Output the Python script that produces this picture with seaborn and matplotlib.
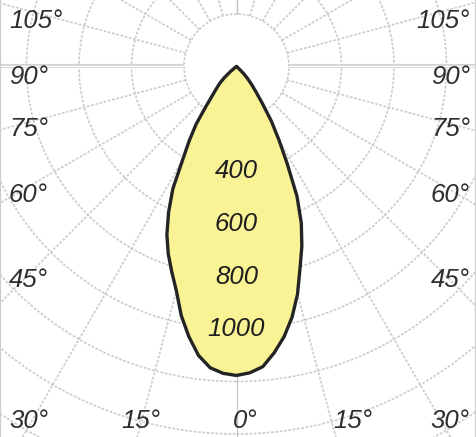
import numpy as np
import pandas as pd
import matplotlib
matplotlib.use("Agg")
import matplotlib.pyplot as plt
import seaborn as sns
from matplotlib.patches import Circle

# ---- data (gamma angle in degrees, intensity in cd) ----
gamma_deg = [0, 2.5, 5, 7.5, 10, 12.5, 15, 17.5, 20, 22.5, 25, 27.5, 30,
             32.5, 35, 37.5, 40, 42.5, 45, 47.5, 50, 55, 60, 90]
cd_left = [1177, 1170, 1152, 1110, 1045, 972, 885, 820, 760, 693, 612, 525, 410,
           335, 268, 190, 140, 112, 90, 62, 32, 6, 0, 0]
cd_right = [1177, 1168, 1148, 1100, 1045, 978, 898, 805, 728, 645, 545, 420, 324,
            248, 172, 122, 90, 64, 40, 16, 2, 0, 0, 0]

ring_values = [200, 400, 600, 800, 1000, 1200, 1400, 1600, 1800]
ring_label_values = [400, 600, 800, 1000]
ring_labels = ["400", "600", "800", "1000"]

side_labels = ["105°", "90°", "75°", "60°", "45°"]
bottom_labels = ["30°", "15°", "0°", "15°", "30°"]

# ---- layout / style ----
PX = 200 / 52.5            # cd per pixel
W, H = 476, 437
CX, CY = 236.5, 66.5       # pole position in pixels
grid_col = "#cbcbcb"
fill_col = "#FAF396"
line_col = "#242424"
text_col = "#2e2e2e"

sns.set_theme(style="white")
plt.rcParams["font.family"] = ["Liberation Sans", "DejaVu Sans"]

fig = plt.figure(figsize=(W / 100, H / 100), dpi=100)
ax = fig.add_axes([0, 0, 1, 1])
ax.set_xlim(-CX * PX, (W - CX) * PX)
ax.set_ylim(-(H - CY) * PX, CY * PX)
ax.set_xticks([])
ax.set_yticks([])
for s in ["top", "bottom"]:
    ax.spines[s].set_visible(False)
for s in ["left", "right"]:
    ax.spines[s].set_color("#cccccc")
    ax.spines[s].set_linewidth(1.6)

# ---- grid ----
dash = (0, (1.6, 1.0))
r0, rmax = ring_values[0], 2600
for r in ring_values:
    ax.add_patch(Circle((0, 0), r, fill=False, ec=grid_col, lw=1.2,
                        ls=dash, zorder=1))
for a in range(-180, 181, 15):
    t = np.deg2rad(a)
    xs = [r0 * np.sin(t), rmax * np.sin(t)]
    ys = [-r0 * np.cos(t), -rmax * np.cos(t)]
    if abs(a) == 90:
        ax.plot(xs, ys, color="#d4d4d4", lw=3.0, zorder=1, solid_capstyle="butt")
        ax.plot(xs, ys, color="white", lw=1.0, zorder=1, solid_capstyle="butt")
    elif a % 180 == 0:
        ax.plot(xs, ys, color="#c4c4c4", lw=0.9, zorder=1)
    else:
        ax.plot(xs, ys, color=grid_col, lw=1.2, ls=dash, zorder=1)

# ---- photometric curve ----
g = np.deg2rad(np.array(gamma_deg, dtype=float))
theta = np.concatenate([-g[::-1], g[1:]])
inten = np.concatenate([np.array(cd_left, float)[::-1], np.array(cd_right, float)[1:]])
df = pd.DataFrame({"x": inten * np.sin(theta), "y": -inten * np.cos(theta)})
ax.fill(df["x"], df["y"], color=fill_col, zorder=2, lw=0)
sns.lineplot(data=df, x="x", y="y", sort=False, estimator=None, ax=ax,
             color=line_col, lw=2.4, zorder=3)
ax.set_xlabel("")
ax.set_ylabel("")

# ---- labels ----
fs = 18.5
for v, lab in zip(ring_label_values, ring_labels):
    ax.text(0, -v, lab, ha="center", va="center", fontsize=fs, style="italic",
            color="#1e1e1e", zorder=4)

side_y_px = [21, 77, 129, 195, 280]
for lab, ypx in zip(side_labels, side_y_px):
    ax.text(9 / W, 1 - ypx / H, lab, transform=ax.transAxes, ha="left", va="center",
            fontsize=fs, style="italic", color=text_col)
    ax.text(470 / W, 1 - ypx / H, lab, transform=ax.transAxes, ha="right", va="center",
            fontsize=fs, style="italic", color=text_col)

bottom_x_px = [29, 141, 245, 353, 450]
for lab, xpx in zip(bottom_labels, bottom_x_px):
    ax.text(xpx / W, 1 - 421 / H, lab, transform=ax.transAxes, ha="center", va="center",
            fontsize=fs, style="italic", color=text_col)

fig.savefig("out.png", dpi=100)
